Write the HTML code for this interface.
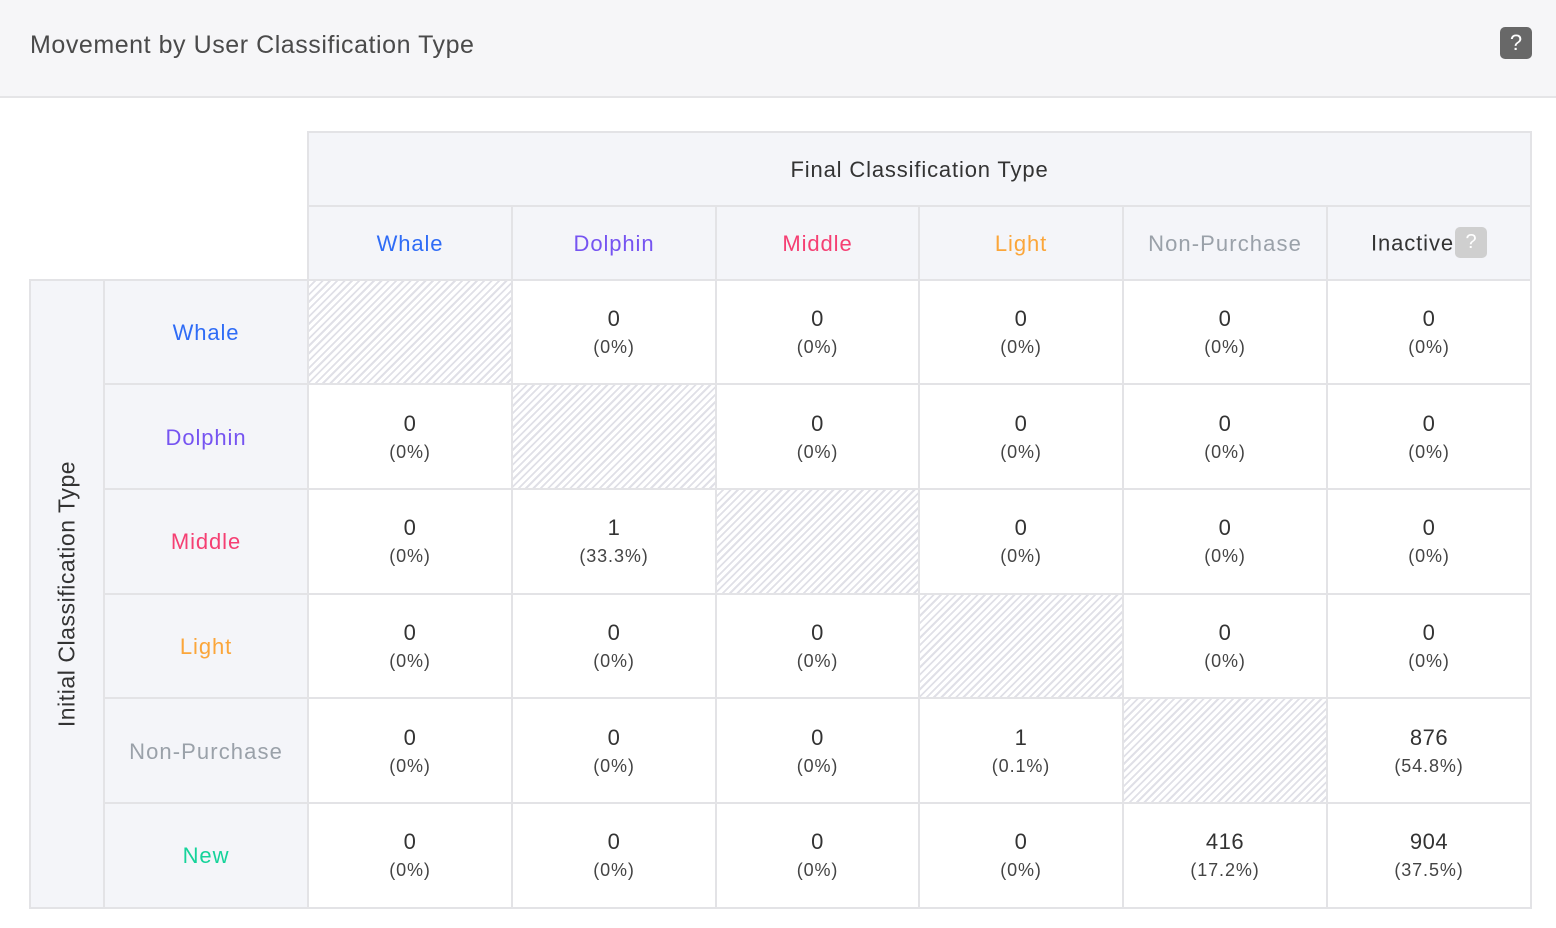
<!DOCTYPE html>
<html><head><meta charset="utf-8"><style>
*{margin:0;padding:0;box-sizing:border-box}
body{width:1556px;height:928px;background:#fff;font-family:"Liberation Sans",Arial,sans-serif;position:relative;overflow:hidden;color:#333}
.hdr{position:absolute;left:0;top:0;width:1556px;height:98px;background:#f6f6f8;border-bottom:2px solid #e5e5e7}
.title{position:absolute;left:30px;top:31px;font-size:25px;color:#4a4a4a;white-space:nowrap;letter-spacing:0.55px}
.qbtn{position:absolute;left:1500px;top:27px;width:32px;height:32px;border-radius:5px;background:#686868;color:#fff;font-size:22px;text-align:center;line-height:32px}
.bg{position:absolute;background:#f4f5f9}
.hl{position:absolute;height:2px;background:#e3e3e6}
.vl{position:absolute;width:2px;background:#e3e3e6}
.hatch{position:absolute;background:repeating-linear-gradient(135deg,#fff 0px,#fff 3.3px,#e0e0e7 3.3px,#e0e0e7 5.2px)}
.lbl{position:absolute;text-align:center;font-size:22px;white-space:nowrap;letter-spacing:0.9px}
.cell{position:absolute;text-align:center;color:#333}
.cell .v{font-size:22px;line-height:26px;letter-spacing:0.5px}
.cell .p{font-size:18px;line-height:22px;margin-top:4px;color:#444;letter-spacing:0.9px}
.vert{position:absolute;left:67px;top:594px;transform:translate(-50%,-50%) rotate(-90deg);font-size:23px;color:#333;white-space:nowrap;letter-spacing:0.55px}
.iq{display:inline-block;width:32px;height:31px;border-radius:5px;background:#cfcfcf;color:#fff;font-size:20px;line-height:31px;text-align:center;vertical-align:middle;margin-left:1px;position:relative;top:-2px;letter-spacing:0}
</style></head><body>
<div class="hdr"><div class="title">Movement by User Classification Type</div><div class="qbtn">?</div></div>

<!-- backgrounds -->
<div class="bg" style="left:307px;top:131px;width:1225px;height:148px"></div>
<div class="bg" style="left:29px;top:279px;width:278px;height:630px"></div>

<!-- hatch cells -->
<div class="hatch" style="left:309px;top:281px;width:202px;height:102px"></div>
<div class="hatch" style="left:513px;top:385px;width:202px;height:103px"></div>
<div class="hatch" style="left:717px;top:490px;width:201px;height:103px"></div>
<div class="hatch" style="left:920px;top:595px;width:202px;height:102px"></div>
<div class="hatch" style="left:1124px;top:699px;width:202px;height:103px"></div>

<!-- grid lines -->
<div class="hl" style="left:307px;top:131px;width:1225px"></div>
<div class="hl" style="left:307px;top:205px;width:1225px"></div>
<div class="hl" style="left:29px;top:279px;width:1503px"></div>
<div class="hl" style="left:103px;top:383px;width:1429px"></div>
<div class="hl" style="left:103px;top:488px;width:1429px"></div>
<div class="hl" style="left:103px;top:593px;width:1429px"></div>
<div class="hl" style="left:103px;top:697px;width:1429px"></div>
<div class="hl" style="left:103px;top:802px;width:1429px"></div>
<div class="hl" style="left:29px;top:907px;width:1503px"></div>

<div class="vl" style="left:29px;top:279px;height:630px"></div>
<div class="vl" style="left:103px;top:279px;height:630px"></div>
<div class="vl" style="left:307px;top:131px;height:778px"></div>
<div class="vl" style="left:511px;top:205px;height:704px"></div>
<div class="vl" style="left:715px;top:205px;height:704px"></div>
<div class="vl" style="left:918px;top:205px;height:704px"></div>
<div class="vl" style="left:1122px;top:205px;height:704px"></div>
<div class="vl" style="left:1326px;top:205px;height:704px"></div>
<div class="vl" style="left:1530px;top:131px;height:778px"></div>

<!-- header labels -->
<div class="lbl" style="left:307px;width:1225px;top:157px;color:#333;font-size:22px;letter-spacing:0.85px">Final Classification Type</div>
<div class="lbl" style="left:309px;width:202px;top:231px;color:#2f6cf6">Whale</div>
<div class="lbl" style="left:513px;width:202px;top:231px;color:#7654f1">Dolphin</div>
<div class="lbl" style="left:717px;width:201px;top:231px;color:#f53f73">Middle</div>
<div class="lbl" style="left:920px;width:202px;top:231px;color:#fba63a">Light</div>
<div class="lbl" style="left:1124px;width:202px;top:231px;color:#9aa1a9;letter-spacing:1.1px">Non-Purchase</div>
<div class="lbl" style="left:1328px;width:202px;top:229px;color:#333">Inactive<span class="iq">?</span></div>

<!-- row labels -->
<div class="vert">Initial Classification Type</div>
<div class="lbl" style="left:105px;width:202px;top:320px;color:#2f6cf6">Whale</div>
<div class="lbl" style="left:105px;width:202px;top:425px;color:#7654f1">Dolphin</div>
<div class="lbl" style="left:105px;width:202px;top:529px;color:#f53f73">Middle</div>
<div class="lbl" style="left:105px;width:202px;top:634px;color:#fba63a">Light</div>
<div class="lbl" style="left:105px;width:202px;top:739px;color:#9aa1a9;letter-spacing:1.1px">Non-Purchase</div>
<div class="lbl" style="left:105px;width:202px;top:843px;color:#16d39a">New</div>

<!-- cells row 1 -->
<div class="cell" style="left:513px;width:202px;top:306px"><div class="v">0</div><div class="p">(0%)</div></div>
<div class="cell" style="left:717px;width:201px;top:306px"><div class="v">0</div><div class="p">(0%)</div></div>
<div class="cell" style="left:920px;width:202px;top:306px"><div class="v">0</div><div class="p">(0%)</div></div>
<div class="cell" style="left:1124px;width:202px;top:306px"><div class="v">0</div><div class="p">(0%)</div></div>
<div class="cell" style="left:1328px;width:202px;top:306px"><div class="v">0</div><div class="p">(0%)</div></div>

<!-- row 2 -->
<div class="cell" style="left:309px;width:202px;top:411px"><div class="v">0</div><div class="p">(0%)</div></div>
<div class="cell" style="left:717px;width:201px;top:411px"><div class="v">0</div><div class="p">(0%)</div></div>
<div class="cell" style="left:920px;width:202px;top:411px"><div class="v">0</div><div class="p">(0%)</div></div>
<div class="cell" style="left:1124px;width:202px;top:411px"><div class="v">0</div><div class="p">(0%)</div></div>
<div class="cell" style="left:1328px;width:202px;top:411px"><div class="v">0</div><div class="p">(0%)</div></div>

<!-- row 3 -->
<div class="cell" style="left:309px;width:202px;top:515px"><div class="v">0</div><div class="p">(0%)</div></div>
<div class="cell" style="left:513px;width:202px;top:515px"><div class="v">1</div><div class="p">(33.3%)</div></div>
<div class="cell" style="left:920px;width:202px;top:515px"><div class="v">0</div><div class="p">(0%)</div></div>
<div class="cell" style="left:1124px;width:202px;top:515px"><div class="v">0</div><div class="p">(0%)</div></div>
<div class="cell" style="left:1328px;width:202px;top:515px"><div class="v">0</div><div class="p">(0%)</div></div>

<!-- row 4 -->
<div class="cell" style="left:309px;width:202px;top:620px"><div class="v">0</div><div class="p">(0%)</div></div>
<div class="cell" style="left:513px;width:202px;top:620px"><div class="v">0</div><div class="p">(0%)</div></div>
<div class="cell" style="left:717px;width:201px;top:620px"><div class="v">0</div><div class="p">(0%)</div></div>
<div class="cell" style="left:1124px;width:202px;top:620px"><div class="v">0</div><div class="p">(0%)</div></div>
<div class="cell" style="left:1328px;width:202px;top:620px"><div class="v">0</div><div class="p">(0%)</div></div>

<!-- row 5 -->
<div class="cell" style="left:309px;width:202px;top:725px"><div class="v">0</div><div class="p">(0%)</div></div>
<div class="cell" style="left:513px;width:202px;top:725px"><div class="v">0</div><div class="p">(0%)</div></div>
<div class="cell" style="left:717px;width:201px;top:725px"><div class="v">0</div><div class="p">(0%)</div></div>
<div class="cell" style="left:920px;width:202px;top:725px"><div class="v">1</div><div class="p">(0.1%)</div></div>
<div class="cell" style="left:1328px;width:202px;top:725px"><div class="v">876</div><div class="p">(54.8%)</div></div>

<!-- row 6 -->
<div class="cell" style="left:309px;width:202px;top:829px"><div class="v">0</div><div class="p">(0%)</div></div>
<div class="cell" style="left:513px;width:202px;top:829px"><div class="v">0</div><div class="p">(0%)</div></div>
<div class="cell" style="left:717px;width:201px;top:829px"><div class="v">0</div><div class="p">(0%)</div></div>
<div class="cell" style="left:920px;width:202px;top:829px"><div class="v">0</div><div class="p">(0%)</div></div>
<div class="cell" style="left:1124px;width:202px;top:829px"><div class="v">416</div><div class="p">(17.2%)</div></div>
<div class="cell" style="left:1328px;width:202px;top:829px"><div class="v">904</div><div class="p">(37.5%)</div></div>
</body></html>
